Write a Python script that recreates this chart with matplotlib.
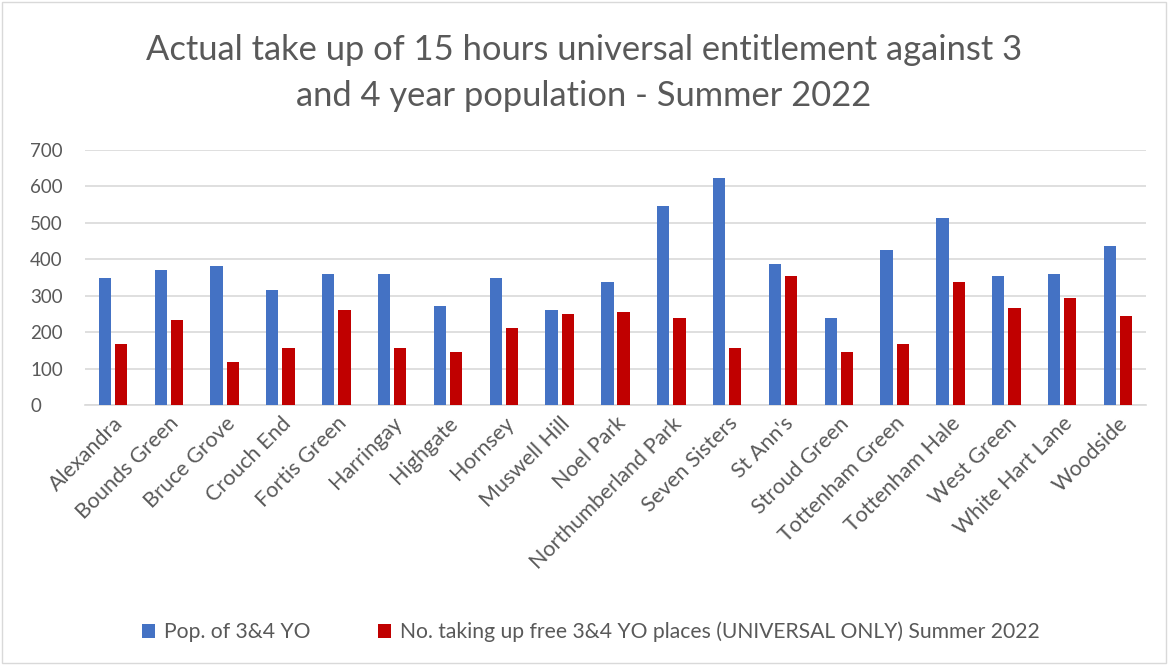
import matplotlib
matplotlib.use("Agg")
import matplotlib.pyplot as plt
import numpy as np
from matplotlib.patches import Rectangle

categories = ["Alexandra", "Bounds Green", "Bruce Grove", "Crouch End", "Fortis Green",
              "Harringay", "Highgate", "Hornsey", "Muswell Hill", "Noel Park",
              "Northumberland Park", "Seven Sisters", "St Ann's", "Stroud Green",
              "Tottenham Green", "Tottenham Hale", "West Green", "White Hart Lane", "Woodside"]
population = [349, 371, 382, 316, 360, 360, 272, 349, 261, 338, 547, 624, 388, 239,
              426, 514, 354, 360, 437]
taking_up = [167, 233, 118, 156, 261, 156, 145, 211, 250, 255, 239, 156, 354, 145,
             167, 338, 266, 294, 244]
series_names = ["Pop. of 3&4 YO",
                "No. taking up free 3&4 YO places (UNIVERSAL ONLY) Summer 2022"]
title = "Actual take up of 15 hours universal entitlement against 3\nand 4 year population - Summer 2022"
yticks = [0, 100, 200, 300, 400, 500, 600, 700]

BLUE = "#4472C4"
RED = "#C00000"
GREY = "#595959"
FONT = ["Lato", "DejaVu Sans"]
plt.rcParams["font.family"] = FONT

W, H = 1168, 665
fig = plt.figure(figsize=(W / 100, H / 100), dpi=100)
fig.patch.set_facecolor("white")
fig.add_artist(Rectangle((2 / W, 2 / H), 1 - 4 / W, 1 - 4 / H, transform=fig.transFigure,
                         fill=False, edgecolor="#D9D9D9", linewidth=1))

left, right = 85 / W, 1146 / W
bottom, top = 1 - 405 / H, 1 - 150 / H
ax = fig.add_axes([left, bottom, right - left, top - bottom])

x = np.arange(len(categories))
off = 0.145
w = 0.22
ax.bar(x - off, population, width=w, color=BLUE, label=series_names[0], zorder=3)
ax.bar(x + off, taking_up, width=w, color=RED, label=series_names[1], zorder=3)

ax.set_xlim(-0.5, len(categories) - 0.5)
ax.set_ylim(0, 700)
ax.set_yticks(yticks)
ax.set_yticklabels([str(t) for t in yticks], color=GREY, fontsize=13.5)
ax.yaxis.grid(True, color="#D9D9D9", linewidth=1.2, zorder=0)
ax.set_axisbelow(True)
ax.tick_params(axis="y", length=0, pad=39.5)
ax.tick_params(axis="x", length=0, pad=6)
for s in ["top", "right", "left"]:
    ax.spines[s].set_visible(False)
ax.spines["bottom"].set_color("#D9D9D9")
ax.spines["bottom"].set_linewidth(1.2)
ax.set_xticks(x)
ax.set_xticklabels(categories, rotation=45, ha="right", rotation_mode="anchor",
                   color=GREY, fontsize=15.5)
for lab in ax.get_yticklabels():
    lab.set_horizontalalignment("left")

fig.text(0.5, 1 - 73 / H, title, ha="center", va="center", fontsize=24.8,
         color=GREY, linespacing=1.55)

leg = fig.legend(loc="center left", bbox_to_anchor=(142 / W, 1 - 632 / H), ncol=2,
                 frameon=False, borderpad=0, borderaxespad=0,
                 fontsize=15.2, handlelength=0.6, handleheight=0.6, handletextpad=0.45,
                 columnspacing=3.2)
for t in leg.get_texts():
    t.set_color(GREY)

fig.savefig("out.png", dpi=100, facecolor="white")
